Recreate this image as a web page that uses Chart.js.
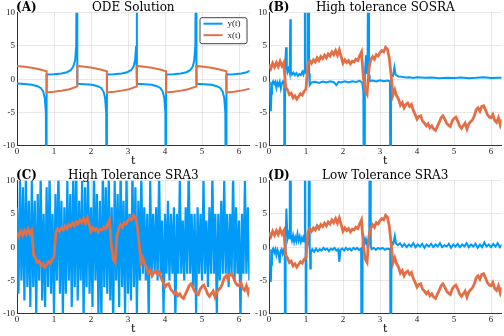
<!DOCTYPE html>
<html>
<head>
<meta charset="utf-8">
<script src="https://cdn.jsdelivr.net/npm/chart.js@4/dist/chart.umd.min.js"></script>
<style>
  html, body { margin: 0; padding: 0; background: #fff; }
  #wrap { position: relative; width: 504px; height: 336px; }
  .cell { position: absolute; width: 252px; height: 168px; }
</style>
</head>
<body>
<div id="wrap">
  <div class="cell" style="left:0;top:0"><canvas id="cA" width="252" height="168"></canvas></div>
  <div class="cell" style="left:252px;top:0"><canvas id="cB" width="252" height="168"></canvas></div>
  <div class="cell" style="left:0;top:168px"><canvas id="cC" width="252" height="168"></canvas></div>
  <div class="cell" style="left:252px;top:168px"><canvas id="cD" width="252" height="168"></canvas></div>
</div>
<script>
// axis ticks
const tTicks = [0, 1, 2, 3, 4, 5, 6];
const yTicks = [-10, -5, 0, 5, 10];

// (A) ODE solution, [t, value]
const odeX = [
  [0, 2.0], [0.2, 1.88], [0.4, 1.72], [0.6, 1.5], [0.8, 1.2],
  [0.8, -2.0], [1.0, -1.88], [1.2, -1.72], [1.42, -1.5], [1.63, -1.08],
  [1.63, 2.0], [1.83, 1.88], [2.03, 1.72], [2.23, 1.5], [2.43, 1.2],
  [2.43, -2.0], [2.63, -1.88], [2.83, -1.72], [3.03, -1.5], [3.24, -1.08],
  [3.24, 2.0], [3.44, 1.88], [3.64, 1.72], [3.84, 1.5], [4.03, 1.2],
  [4.03, -2.0], [4.23, -1.88], [4.43, -1.72], [4.63, -1.5], [4.85, -1.08],
  [4.85, 2.0], [5.05, 1.88], [5.25, 1.72], [5.45, 1.5], [5.66, 1.2],
  [5.66, -2.0], [5.86, -1.88], [6.06, -1.72], [6.3, -1.42]
];
const odeY = [
  [0, -0.65], [0.2, -0.72], [0.4, -0.85], [0.55, -1.05], [0.65, -1.35], [0.71, -1.9], [0.75, -2.8], [0.78, -5], [0.8, -40],
  [0.8, 0.7], [1.0, 0.75], [1.2, 0.85], [1.35, 1.05], [1.45, 1.35], [1.52, 1.9], [1.57, 2.8], [1.6, 5], [1.63, 40],
  [1.63, -0.7], [1.83, -0.75], [2.03, -0.85], [2.18, -1.05], [2.28, -1.35], [2.34, -1.9], [2.38, -2.8], [2.41, -5], [2.43, -40],
  [2.43, 0.7], [2.63, 0.75], [2.83, 0.85], [2.98, 1.05], [3.08, 1.35], [3.15, 1.9], [3.19, 2.8], [3.22, 5], [3.24, 40],
  [3.24, -0.7], [3.44, -0.75], [3.64, -0.85], [3.78, -1.05], [3.88, -1.35], [3.94, -1.9], [3.98, -2.8], [4.01, -5], [4.03, -40],
  [4.03, 0.7], [4.23, 0.75], [4.43, 0.85], [4.58, 1.05], [4.68, 1.35], [4.75, 1.9], [4.79, 2.8], [4.82, 5], [4.85, 40],
  [4.85, -0.7], [5.05, -0.75], [5.25, -0.85], [5.4, -1.05], [5.5, -1.35], [5.56, -1.9], [5.6, -2.8], [5.63, -5], [5.66, -40],
  [5.66, 0.7], [5.86, 0.75], [6.06, 0.85], [6.21, 1.05], [6.3, 1.3]
];

// x(t) of the stochastic runs, every 0.05 in t
const xNoisy = [
  2.2, 1.6, 2.4, 1.8, 2.5, 1.9, 2.7, 2.0, 2.5, -1.2,
  -1.6, -2.3, -2.1, -2.8, -2.5, -3.0, -2.6, -2.2, -2.4, -1.8,
  -1.5, 2.2, 2.8, 2.4, 2.9, 2.6, 3.2, 2.8, 3.4, 3.1,
  3.6, 3.2, 3.8, 3.5, 4.1, 3.7, 4.3, 3.6, 4.4, 3.4,
  2.4, 2.9, 2.5, 2.8, 2.3, 2.7, 2.6, 3.0, 2.8, 3.5,
  4.1, 0.2, -1.8, -2.3, 1.6, 2.9, 3.4, 3.0, 3.7, 3.5,
  4.0, 4.3, 4.1, 4.8, 4.5, 3.2, 0.6, -2.4, -1.6, -2.5,
  -3.0, -3.9, -3.5, -4.3, -3.8, -3.6, -4.1, -3.8, -4.7, -5.3,
  -6.0, -5.6, -5.5, -6.3, -6.6, -7.0, -6.7, -7.3, -7.0, -7.5,
  -7.7, -7.1, -6.5, -5.8, -5.5, -6.0, -6.6, -6.9, -7.1, -6.3,
  -5.9, -5.7, -6.3, -7.0, -7.4, -7.0, -6.6, -7.5, -6.7, -6.4,
  -6.1, -5.5, -4.6, -4.3, -4.8, -4.1, -4.0, -4.6, -5.3, -5.7,
  -5.8, -5.3, -6.2, -6.5, -5.8, -6.9, -6.0
];
const tNoisy = xNoisy.map((_, i) => i * 0.05);

// (B) y(t), high tolerance SOSRA, [t, value]
const yB = [
  [0, -0.4], [0.02, -0.9], [0.035, -3.2], [0.05, -4.8], [0.065, -2.2], [0.08, -0.6], [0.11, -0.3], [0.14, -0.7], [0.17, -0.4], [0.2, -1.3],
  [0.23, -0.5], [0.26, -0.9], [0.29, -0.4], [0.32, -1.4], [0.35, -0.6], [0.38, -0.3], [0.41, -0.7],
  [0.425, -40], [0.435, 1.5], [0.46, 4.8], [0.48, 2.0], [0.5, 1.1], [0.53, 1.6], [0.56, 0.9], [0.575, 9], [0.59, 1.2], [0.62, 0.7],
  [0.66, 1.0], [0.7, 0.6], [0.74, 0.9], [0.78, 0.5], [0.82, 0.8], [0.86, 0.6], [0.9, 1.1], [0.93, 0.7], [0.955, 1.3],
  [0.97, 40], [0.985, 1.0], [1.02, 0.8], [1.05, 1.3], [1.07, 40], [1.085, 0.9], [1.1, -0.9], [1.15, -0.5], [1.25, -0.4], [1.35, -0.55],
  [1.45, -0.35], [1.55, -0.5], [1.65, -0.3], [1.75, -0.45], [1.82, -0.9], [1.88, -0.4], [1.95, -0.5], [2.05, -0.3], [2.15, -0.5],
  [2.25, -0.3], [2.35, -0.4], [2.45, -0.25], [2.52, -0.5], [2.55, -2.0],
  [2.575, -40], [2.59, 0.5], [2.62, 3.6], [2.64, 0.8], [2.665, 2.0], [2.69, 40], [2.705, 0.6], [2.72, -0.3], [2.8, -0.2], [2.9, -0.35],
  [3.0, -0.15], [3.1, -0.3], [3.2, -0.2], [3.27, -0.3],
  [3.285, -40], [3.3, 0.6], [3.35, 0.5], [3.39, 1.8], [3.42, 0.7], [3.5, 0.4], [3.6, 0.35], [3.7, 0.25], [3.8, 0.3], [3.9, 0.2],
  [4.0, 0.28], [4.2, 0.2], [4.4, 0.25], [4.6, 0.15], [4.8, 0.22], [5.0, 0.18], [5.2, 0.25], [5.4, 0.15], [5.6, 0.2], [5.8, 0.28],
  [6.0, 0.18], [6.2, 0.22], [6.3, 0.2]
];

// (C) y(t), high tolerance SRA3, every 0.04 in t
const yC = [
  6, -7, 10, -5, 9, -8, 11, -6, 7, -9,
  10, -6, 7, -10, 8, -5, 11, -8, 5, -9,
  9, -6, 11, -7, 5, -10, 8, -5, 12, -7,
  7, -10, 6, -7, 10, -5, 8, -9, 11, -6,
  12, -8, 7, -5, 10, -11, 9, -6, 11, -7,
  6, -9, 12, -5, 8, -10, 7, -11, 12, -6,
  9, -7, 11, -8, 6, -12, 10, -5, 8, -9,
  12, -6, 7, -10, 11, -7, 5, -8, 12, -6,
  9, -10, 7, -5, 11, -4, 6, -5, 5, -11,
  10, -4, 5, -4, 6, -5, 11, -4, 4, -10,
  5, -4, 7, -5, 5, -4, 6, -11, 5, -4,
  10, -4, 4, -5, 6, -4, 12, -4, 5, -6,
  5, -10, 6, -4, 5, -5, 10, -4, 4, -6,
  6, -4, 11, -4, 5, -10, 5, -5, 7, -4,
  10, -4, 5, -6, 5, -4, 11, -5, 6, -4,
  4, -11, 5, -4, 10, -4, 6, -5
];
const tC = yC.map((_, i) => i * 0.04);

// (D) y(t), low tolerance SRA3, [t, value]
const yD = [
  [0, -0.3], [0.02, -1.0], [0.035, -3.6], [0.05, -5.2], [0.065, -2.6], [0.08, -0.5], [0.11, -0.2], [0.14, -0.8], [0.17, -0.3], [0.2, -1.2],
  [0.23, -0.4], [0.26, -0.9], [0.29, -2.4], [0.31, -0.6], [0.34, -0.3], [0.37, -1.0], [0.4, -0.4], [0.425, -0.6],
  [0.44, -40], [0.45, 1.5], [0.47, 5.8], [0.49, 2.5], [0.51, 1.5], [0.54, 2.2], [0.56, 1.2], [0.575, 40], [0.59, 1.8], [0.62, 1.0],
  [0.65, 1.8], [0.68, 0.8], [0.71, 1.5], [0.74, 0.9], [0.77, 2.0], [0.8, 1.0], [0.83, 1.6], [0.86, 0.8], [0.89, 1.4], [0.92, 0.9],
  [0.945, 1.9], [0.96, 1.2], [0.97, 40], [0.98, 1.0], [0.99, 0.5], [1.0, -40], [1.01, 0.5], [1.04, 0.3], [1.07, 1.0], [1.085, 40],
  [1.1, 0.2], [1.115, -3.2], [1.13, -0.8], [1.17, -0.3], [1.22, -0.7], [1.27, -0.2], [1.32, -0.6], [1.37, -0.3], [1.42, -0.5], [1.47, -0.1],
  [1.52, -0.4], [1.57, -0.2], [1.62, -0.6], [1.67, -0.2], [1.72, -0.4], [1.77, -0.1], [1.82, -0.5], [1.87, -0.3], [1.9, -2.2], [1.93, -0.4],
  [1.98, -0.2], [2.03, -0.5], [2.08, -0.1], [2.13, -0.4], [2.18, -0.2], [2.23, -0.5], [2.28, -0.1], [2.33, -0.3], [2.38, -0.1], [2.43, -0.4],
  [2.49, -0.2], [2.51, -40], [2.53, 0.5], [2.56, 1.5], [2.59, 0.6], [2.62, 1.2], [2.65, 0.4], [2.68, 1.0], [2.71, 0.7], [2.73, 40],
  [2.75, 0.3], [2.77, -0.3], [2.83, -0.1], [2.89, -0.4], [2.95, -0.1], [3.01, -0.3], [3.07, -0.1], [3.13, -0.4], [3.19, -0.2], [3.25, -0.3],
  [3.275, -0.2], [3.29, -40], [3.31, 0.8], [3.36, 0.5], [3.4, 1.7], [3.43, 0.6], [3.48, 0.3], [3.54, 0.6], [3.6, 0.1], [3.66, 0.5],
  [3.72, 0.0], [3.78, 0.4], [3.84, 0.1], [3.9, 0.6], [3.96, 0.0], [4.02, 0.4], [4.08, 0.1], [4.14, 0.5], [4.2, -0.1], [4.26, 0.4],
  [4.32, 0.1], [4.38, 0.5], [4.44, 0.0], [4.5, 0.4], [4.56, 0.1], [4.62, 0.6], [4.68, 0.0], [4.74, 0.3], [4.8, 0.1], [4.86, 0.5],
  [4.92, -0.1], [4.98, 0.4], [5.04, 0.1], [5.1, 0.5], [5.16, 0.0], [5.22, 0.4], [5.28, 0.1], [5.34, 0.6], [5.4, 0.0], [5.46, 0.4],
  [5.52, 0.1], [5.58, 0.5], [5.64, -0.1], [5.7, 0.4], [5.76, 0.0], [5.82, 0.7], [5.88, 0.1], [5.94, 0.4], [6.0, 0.0], [6.06, 0.5],
  [6.12, 0.1], [6.18, 0.6], [6.24, 0.0], [6.3, 0.4]
];

const BLUE = '#009af9';
const ORANGE = '#e26f46';
const SERIF = "'DejaVu Serif', serif";
const TICK_FONT = "'Liberation Serif', serif";

const pairs = list => list.map(([x, y]) => ({ x, y }));
const onGrid = (ts, vals) => vals.map((y, i) => ({ x: ts[i], y }));

function series(label, data, color, width) {
  return { label, data, borderColor: color, borderWidth: width, pointRadius: 0, tension: 0, clip: 0 };
}

// panel letter, title and (for A) the legend box
const panelText = {
  id: 'panelText',
  afterDraw(chart, args, opts) {
    const { ctx, chartArea: a } = chart;
    ctx.save();
    ctx.fillStyle = '#000';
    ctx.textBaseline = 'alphabetic';
    ctx.textAlign = 'left';
    ctx.font = 'bold 12px ' + SERIF;
    ctx.fillText(opts.tag, a.left - 1, 11);
    ctx.textAlign = 'center';
    ctx.font = '12px ' + SERIF;
    ctx.fillText(opts.title, (a.left + a.right) / 2, 11);
    if (opts.legend) {
      const bx = a.right - 50, by = a.top + 4.5, bw = 47, bh = 26;
      ctx.fillStyle = '#fff';
      ctx.strokeStyle = '#444';
      ctx.lineWidth = 1;
      ctx.beginPath();
      ctx.roundRect(bx + 0.5, by + 0.5, bw, bh, 2);
      ctx.fill();
      ctx.stroke();
      ctx.font = '9px ' + TICK_FONT;
      ctx.textAlign = 'left';
      ctx.textBaseline = 'middle';
      opts.legend.forEach((item, i) => {
        const yy = by + 6.5 + i * 11.5;
        ctx.strokeStyle = item.color;
        ctx.lineWidth = 2;
        ctx.beginPath();
        ctx.moveTo(bx + 4, yy);
        ctx.lineTo(bx + 23, yy);
        ctx.stroke();
        ctx.fillStyle = '#222';
        ctx.fillText(item.label, bx + 28, yy);
      });
    }
    ctx.restore();
  }
};

function makeChart(id, datasets, tag, title, legend) {
  return new Chart(document.getElementById(id), {
    type: 'line',
    data: { datasets },
    options: {
      responsive: false,
      animation: false,
      layout: { padding: { top: 12.7, right: 2.5, left: 0, bottom: 0 } },
      plugins: {
        legend: { display: false },
        tooltip: { enabled: false },
        panelText: { tag, title, legend }
      },
      scales: {
        x: {
          type: 'linear', min: 0, max: 6.2832,
          afterBuildTicks: s => { s.ticks = tTicks.map(v => ({ value: v })); },
          afterFit: s => { s.height = 22.3; },
          ticks: { font: { family: TICK_FONT, size: 9 }, color: '#222', padding: 1, maxRotation: 0 },
          grid: { color: 'rgba(0,0,0,0.09)', drawTicks: false },
          border: { color: '#333', width: 1 },
          title: { display: true, text: 't', font: { family: SERIF, size: 11 }, color: '#000', padding: { top: 0, bottom: 0 } }
        },
        y: {
          min: -10, max: 10,
          afterBuildTicks: s => { s.ticks = yTicks.map(v => ({ value: v })); },
          afterFit: s => { s.width = 17; },
          ticks: { font: { family: TICK_FONT, size: 9 }, color: '#222', padding: 2 },
          grid: { color: 'rgba(0,0,0,0.09)', drawTicks: false },
          border: { color: '#333', width: 1 }
        }
      }
    },
    plugins: [panelText]
  });
}

makeChart('cA', [
  series('x(t)', pairs(odeX), ORANGE, 2),
  series('y(t)', pairs(odeY), BLUE, 2)
], '(A)', 'ODE Solution', [{ label: 'y(t)', color: BLUE }, { label: 'x(t)', color: ORANGE }]);

makeChart('cB', [
  series('x(t)', onGrid(tNoisy, xNoisy), ORANGE, 2.8),
  series('y(t)', pairs(yB), BLUE, 2)
], '(B)', 'High tolerance SOSRA');

makeChart('cC', [
  series('x(t)', onGrid(tNoisy, xNoisy), ORANGE, 2.8),
  series('y(t)', onGrid(tC, yC), BLUE, 2.2)
], '(C)', 'High Tolerance SRA3');

makeChart('cD', [
  series('x(t)', onGrid(tNoisy, xNoisy), ORANGE, 2.8),
  series('y(t)', pairs(yD), BLUE, 2)
], '(D)', 'Low Tolerance SRA3');
</script>
</body>
</html>
